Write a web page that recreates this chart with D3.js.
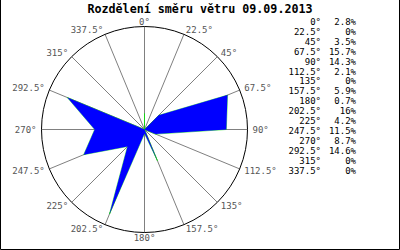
<!DOCTYPE html>
<html>
<head>
<meta charset="utf-8">
<script src="https://cdn.jsdelivr.net/npm/d3@7"></script>
<style>
  body { margin: 0; background: #fff; }
  svg { display: block; }
  text { font-family: "DejaVu Sans Mono", monospace; }
</style>
</head>
<body>
<svg id="chart" width="400" height="250"></svg>
<script>
// wind direction distribution, 16 sectors
var directions = [0, 22.5, 45, 67.5, 90, 112.5, 135, 157.5, 180, 202.5, 225, 247.5, 270, 292.5, 315, 337.5];
var percents   = [2.8, 0, 3.5, 15.7, 14.3, 2.1, 0, 5.9, 0.7, 16, 4.2, 11.5, 8.7, 14.6, 0, 0];
var percentLabels = ["2.8%", "0%", "3.5%", "15.7%", "14.3%", "2.1%", "0%", "5.9%", "0.7%", "16%", "4.2%", "11.5%", "8.7%", "14.6%", "0%", "0%"];
var title = "Rozdělení směru větru 09.09.2013";
var rMax = 18;

var svg = d3.select("svg#chart");

var chart_vars = {
  'cx' : 144.5,
  'cy' : 129.5,
  'radius' : 103,
  'label_radius' : 108,
  'legend_x1' : 321,
  'legend_x2' : 356,
  'legend_y' : 25,
  'legend_step' : 9.9
}

var rScale = d3.scaleLinear().domain([0, rMax]).range([0, chart_vars.radius]);
var aScale = d3.scaleLinear().domain([0, 360]).range([0, 2 * Math.PI]);

// frame
svg.append("path")
  .attr("d", "M0.5,0 V249.5 H399.5 V0")
  .attr("fill", "none")
  .attr("stroke", "#000");

svg.append("text")
  .attr("x", 200)
  .attr("y", 13)
  .attr("text-anchor", "middle")
  .style("font-size", "11.7px")
  .style("font-weight", "bold")
  .attr("fill", "#000")
  .text(title);

var g = svg.append("g")
  .attr("transform", "translate(" + chart_vars.cx + "," + chart_vars.cy + ")");

// spokes
g.selectAll("line.spoke")
  .data(directions)
  .enter()
  .append("line")
  .attr("class", "spoke")
  .attr("x1", 0).attr("y1", 0)
  .attr("x2", function(d) { return chart_vars.radius * Math.sin(aScale(d)) })
  .attr("y2", function(d) { return -chart_vars.radius * Math.cos(aScale(d)) })
  .style("stroke", "#808080")
  .style("stroke-width", 1);

// data polygon
var radial = d3.lineRadial()
  .angle(function(d) { return aScale(d[0]) })
  .radius(function(d) { return rScale(d[1]) })
  .curve(d3.curveLinearClosed);

var pts = directions.map(function(d, i) { return [d, percents[i]] });

g.append("path")
  .attr("d", radial(pts))
  .style("fill", "none")
  .style("stroke", "#00e000")
  .style("stroke-width", 0.6);

g.append("path")
  .attr("d", radial(pts))
  .style("fill", "#0000ff")
  .style("stroke", "none");

g.append("circle")
  .attr("r", chart_vars.radius)
  .style("fill", "none")
  .style("stroke", "#000")
  .style("stroke-width", 1);

// direction labels
g.selectAll("text.dir")
  .data(directions)
  .enter()
  .append("text")
  .attr("class", "dir")
  .attr("x", function(d) { return chart_vars.label_radius * Math.sin(aScale(d)) })
  .attr("y", function(d) { return -chart_vars.label_radius * Math.cos(aScale(d)) })
  .attr("dy", "0.35em")
  .attr("text-anchor", function(d) {
    var s = Math.sin(aScale(d));
    return s > 0.01 ? "start" : (s < -0.01 ? "end" : "middle");
  })
  .style("font-size", "9px")
  .attr("fill", "#555")
  .text(function(d) { return d + "°" });

// legend table
var leg = svg.append("g").attr("class", "legend");

leg.selectAll("text.ang")
  .data(directions)
  .enter()
  .append("text")
  .attr("class", "ang")
  .attr("x", chart_vars.legend_x1)
  .attr("y", function(d, i) { return chart_vars.legend_y + i * chart_vars.legend_step })
  .attr("text-anchor", "end")
  .style("font-size", "9px")
  .attr("fill", "#000")
  .text(function(d) { return d + "°" });

leg.selectAll("text.pct")
  .data(percentLabels)
  .enter()
  .append("text")
  .attr("class", "pct")
  .attr("x", chart_vars.legend_x2)
  .attr("y", function(d, i) { return chart_vars.legend_y + i * chart_vars.legend_step })
  .attr("text-anchor", "end")
  .style("font-size", "9px")
  .attr("fill", "#000")
  .text(function(d) { return d });
</script>
</body>
</html>
